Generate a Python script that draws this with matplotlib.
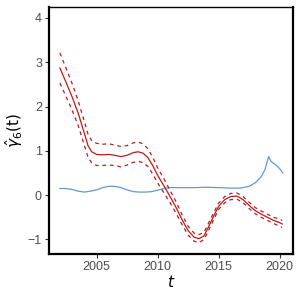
import numpy as np
import matplotlib.pyplot as plt

plt.rcParams['font.family'] = ['Liberation Sans', 'DejaVu Sans']

# Estimated autocorrelation curve (red) with band half-widths
yr_est = [2002.0, 2002.5, 2003.0, 2003.5, 2004.0, 2004.3, 2004.6, 2005.0,
          2005.5, 2006.0, 2006.5, 2007.0, 2007.5, 2008.0, 2008.4, 2008.8,
          2009.2, 2009.6, 2010.0, 2010.5, 2011.0, 2011.5, 2012.0, 2012.5,
          2013.0, 2013.4, 2013.8, 2014.2, 2014.6, 2015.0, 2015.5, 2016.0,
          2016.5, 2017.0, 2017.5, 2018.0, 2018.5, 2019.0, 2019.5, 2020.0,
          2020.2]
gamma_est = [2.87, 2.55, 2.22, 1.85, 1.40, 1.12, 0.98, 0.92,
             0.91, 0.92, 0.90, 0.87, 0.90, 0.96, 0.98, 0.95,
             0.85, 0.67, 0.45, 0.22, -0.02, -0.27, -0.55, -0.80,
             -0.95, -0.98, -0.92, -0.70, -0.47, -0.25, -0.10, -0.03,
             -0.02, -0.10, -0.23, -0.35, -0.43, -0.50, -0.57, -0.62,
             -0.65]
half_width = [0.34, 0.32, 0.30, 0.28, 0.27, 0.26, 0.25, 0.25,
              0.24, 0.24, 0.23, 0.23, 0.22, 0.22, 0.22, 0.21,
              0.20, 0.19, 0.17, 0.16, 0.14, 0.13, 0.11, 0.10,
              0.09, 0.09, 0.08, 0.08, 0.08, 0.07, 0.07, 0.07,
              0.07, 0.07, 0.07, 0.07, 0.07, 0.07, 0.07, 0.08,
              0.08]

# Blue reference curve
yr_ref = [2002.0, 2002.5, 2003.0, 2003.5, 2004.0, 2004.5, 2005.0, 2005.5,
          2006.0, 2006.5, 2007.0, 2007.5, 2008.0, 2008.5, 2009.0, 2009.5,
          2010.0, 2010.5, 2011.0, 2012.0, 2013.0, 2014.0, 2015.0, 2016.0,
          2016.8, 2017.5, 2018.0, 2018.5, 2018.8, 2019.0, 2019.1, 2019.3,
          2019.7, 2020.0, 2020.25]
gamma_ref = [0.15, 0.15, 0.13, 0.09, 0.07, 0.09, 0.12, 0.17,
             0.20, 0.20, 0.17, 0.12, 0.08, 0.07, 0.07, 0.08,
             0.11, 0.15, 0.17, 0.17, 0.17, 0.18, 0.17, 0.16,
             0.16, 0.20, 0.28, 0.42, 0.58, 0.78, 0.87, 0.76,
             0.68, 0.60, 0.50]

red = '#B81C1C'
blue = '#5E9BD3'

x = np.array(yr_est)
g = np.array(gamma_est)
hw = np.array(half_width)

fig = plt.figure(figsize=(3, 3), dpi=100)
ax = fig.add_axes([0.163, 0.153, 0.814, 0.824])

ax.plot(yr_ref, gamma_ref, color=blue, lw=0.9)
ax.plot(x, g, color=red, lw=0.9)
ax.plot(x, g + hw, color=red, lw=0.9, dashes=(3, 3))
ax.plot(x, g - hw, color=red, lw=0.9, dashes=(3, 3))

ax.set_xlim(2001.1, 2021.1)
ax.set_ylim(-1.33, 4.25)
ax.set_xticks([2005, 2010, 2015, 2020])
ax.set_yticks([-1, 0, 1, 2, 3, 4])
ax.tick_params(length=3, width=0.8, color='#333333', labelcolor='#4D4D4D',
               labelsize=9, pad=2)

for side in ['left', 'bottom', 'right']:
    ax.spines[side].set_linewidth(1.6)
ax.spines['top'].set_linewidth(1.0)

ax.set_xlabel('$t$', fontsize=11, labelpad=1)
ax.set_ylabel(r'$\hat{\gamma}_6\mathrm{(t)}$', fontsize=11, labelpad=2)

fig.savefig('out.png', dpi=100)
